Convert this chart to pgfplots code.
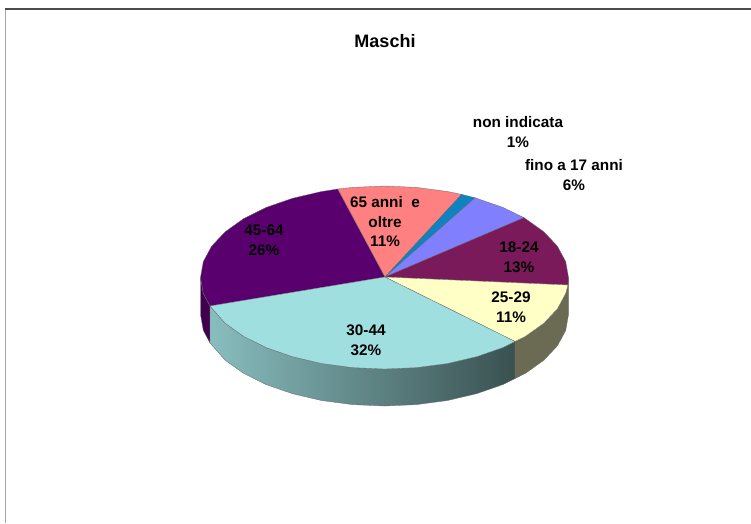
\documentclass[border=0pt]{standalone}
\usepackage{pgfplots}
\pgfplotsset{compat=1.18}
\usepackage{fontspec}
\setmainfont{Liberation Sans}
\definecolor{cA}{HTML}{5A006E}
\definecolor{cAw}{HTML}{40004E}
\definecolor{cB}{HTML}{FF8080}
\definecolor{cC}{HTML}{0F82C0}
\definecolor{cD}{HTML}{8080FF}
\definecolor{cE}{HTML}{7B1A5A}
\definecolor{cF}{HTML}{FFFFC6}
\definecolor{cG}{HTML}{A0DFE0}
\tikzset{lab/.style={font=\bfseries\fontsize{15.3}{19.5}\selectfont,align=center,text=black,inner sep=0pt}}
\begin{document}
\begin{tikzpicture}
\begin{axis}[
  scale only axis,width=751pt,height=523pt,
  xmin=0,xmax=751,ymin=0,ymax=523,y dir=reverse,
  hide axis,clip=true]
% frame
\addplot[draw=black!35,line width=1pt] coordinates {(5.5,523)(5.5,9)};
\addplot[draw=black!70,line width=1.3pt] coordinates {(5,9)(751,9)};
% side walls
\addplot[fill=cAw,draw=black!60,line width=.3pt] coordinates {(200.5,277.5)(203.3,293.4)(210,306)(210,343)(203.3,330.4)(200.5,314.5)} --cycle;
\addplot[left color=cG!85!black,middle color=cG!55!black,right color=cG!36!black,draw=black!60,line width=.3pt] coordinates {(210,306)(225.2,323.25)(243.5,336.3)(266.2,347.6)(292.5,356.7)(321.6,363.5)(352.6,367.6)(384.5,369)(416.4,367.6)(447.4,363.5)(476.5,356.7)(502.8,347.6)(515,341.5)(515,378.5)(502.8,384.6)(476.5,393.7)(447.4,400.5)(416.4,404.6)(384.5,406)(352.6,404.6)(321.6,400.5)(292.5,393.7)(266.2,384.6)(243.5,373.3)(225.2,360.25)(210,343)} --cycle;
\addplot[fill=cF!42!black,draw=black!60,line width=.3pt] coordinates {(515,341.5)(525.5,336.3)(543.8,323.25)(557.4,308.8)(565.7,293.4)(567.9,285)(568.5,277.5)(568.5,314.5)(565.7,330.4)(557.4,345.8)(543.8,360.25)(525.5,373.3)(515,378.5)} --cycle;
% top faces
\addplot[fill=cA,draw=black!60,line width=.3pt] coordinates {(385,277)(210,306)(203.3,293.4)(200.5,277.5)(203.3,261.6)(211.6,246.2)(225.2,231.75)(243.5,218.7)(266.2,207.4)(292.5,198.3)(321.6,191.5)(337.8,189)} --cycle;
\addplot[fill=cB,draw=black!60,line width=.3pt] coordinates {(385,277)(337.8,189)(352.6,187.4)(384.5,186)(416.4,187.4)(447.4,191.5)(461.7,194.4)} --cycle;
\addplot[fill=cC,draw=black!60,line width=.3pt] coordinates {(385,277)(461.7,194.4)(475,197.8)} --cycle;
\addplot[fill=cD,draw=black!60,line width=.3pt] coordinates {(385,277)(475,197.8)(476.5,198.3)(502.8,207.4)(524,217.7)} --cycle;
\addplot[fill=cE,draw=black!60,line width=.3pt] coordinates {(385,277)(524,217.7)(525.5,218.7)(543.8,231.75)(557.4,246.2)(565.7,261.6)(568.5,277.5)(567.9,285)} --cycle;
\addplot[fill=cF,draw=black!60,line width=.3pt] coordinates {(385,277)(567.9,285)(565.7,293.4)(557.4,308.8)(543.8,323.25)(525.5,336.3)(515,341.5)} --cycle;
\addplot[fill=cG,draw=black!60,line width=.3pt] coordinates {(385,277)(515,341.5)(502.8,347.6)(476.5,356.7)(447.4,363.5)(416.4,367.6)(384.5,369)(352.6,367.6)(321.6,363.5)(292.5,356.7)(266.2,347.6)(243.5,336.3)(225.2,323.25)(210,306)} --cycle;
% labels
\node[lab,font=\bfseries\fontsize{18}{20}\selectfont] at (axis cs:385,41) {Maschi};
\node[lab] at (axis cs:518,132) {non indicata\\1\%};
\node[lab] at (axis cs:574,175) {fino a 17 anni\\6\%};
\node[lab] at (axis cs:519,257) {18-24\\13\%};
\node[lab] at (axis cs:511,307) {25-29\\11\%};
\node[lab] at (axis cs:366,340) {30-44\\32\%};
\node[lab] at (axis cs:264,240) {45-64\\26\%};
\node[lab] at (axis cs:385,222) {65 anni\ \ e\\oltre\\11\%};
\end{axis}
\path[use as bounding box] (0,0) rectangle (751pt,523pt);
\end{tikzpicture}
\end{document}
